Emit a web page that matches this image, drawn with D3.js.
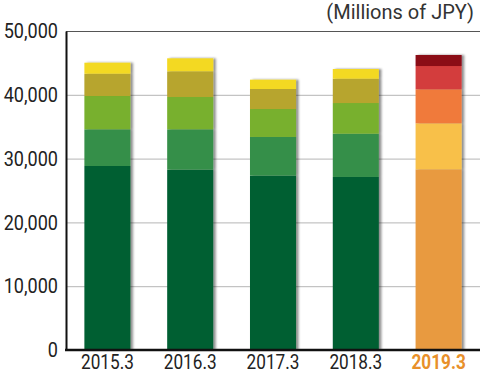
<!DOCTYPE html>
<html>
<head>
<meta charset="utf-8">
<script src="https://cdn.jsdelivr.net/npm/d3@7"></script>
<style>
  body { margin: 0; background: #fff; }
  svg { display: block; }
</style>
</head>
<body>
<div class="container"></div>
<script>
// values (millions of JPY), stacked bottom to top
var years = ["2015.3", "2016.3", "2017.3", "2018.3", "2019.3"];
var seg1 = [28840, 28260, 27320, 27120, 28320];
var seg2 = [5750, 6330, 6070, 6780, 7210];
var seg3 = [5220, 5070, 4380, 4810, 5330];
var seg4 = [3490, 4020, 3140, 3810, 3650];
var seg5 = [1730, 2040, 1460, 1520, 1730];
var yTicks = [0, 10000, 20000, 30000, 40000, 50000];

// colours: past years in greens, latest year in warm tones
var greens = ["#035e33", "#368f4a", "#78b02e", "#b7a52d", "#f3d923"];
var warms = ["#e89a3f", "#f8c049", "#f07a3a", "#d33c3c", "#8b0a15"];
var highlight = "2019.3";

var width = 480, height = 376;
var margin = {top: 31, right: 0, bottom: 26, left: 66};
var squeeze = 0.86; // the reference uses a condensed face

var svg = d3.select(".container").append("svg")
  .attr("width", width).attr("height", height);

var defs = svg.append("defs");
var f = defs.append("filter").attr("id", "shadow")
  .attr("x", "-10%").attr("y", "-5%").attr("width", "130%").attr("height", "110%");
f.append("feDropShadow").attr("dx", 2.5).attr("dy", 0).attr("stdDeviation", 1)
  .attr("flood-color", "#000").attr("flood-opacity", 0.45);

var x = d3.scaleBand().domain(years)
  .range([margin.left, width - margin.right])
  .paddingInner(0.444).paddingOuter(0.222);

var y = d3.scaleLinear().domain([0, 50000])
  .range([height - margin.bottom, margin.top]);

// build stacked rows
var keys = ["s1", "s2", "s3", "s4", "s5"];
var rows = years.map(function(yr, i) {
  return {year: yr, s1: seg1[i], s2: seg2[i], s3: seg3[i], s4: seg4[i], s5: seg5[i]};
});
var stack = d3.stack().keys(keys)(rows);

// grid lines
svg.append("g").selectAll("line")
  .data(yTicks.filter(function(t) { return t > 0 && t < 50000; }))
  .enter().append("line")
  .attr("x1", margin.left).attr("x2", width)
  .attr("y1", function(d) { return y(d) + 0.5; })
  .attr("y2", function(d) { return y(d) + 0.5; })
  .style("stroke", "#b5b5b5").style("stroke-width", 1);

// top border
svg.append("line")
  .attr("x1", margin.left).attr("x2", width)
  .attr("y1", y(50000) + 0.5).attr("y2", y(50000) + 0.5)
  .style("stroke", "#555").style("stroke-width", 1);

// bars with a shadow on each whole column
var cols = svg.append("g").selectAll("g.col")
  .data(rows).enter().append("g").attr("class", "col")
  .attr("filter", "url(#shadow)");

cols.each(function(r, i) {
  var g = d3.select(this);
  var pal = r.year === highlight ? warms : greens;
  stack.forEach(function(layer, k) {
    var d = layer[i];
    g.append("rect")
      .attr("x", x(r.year))
      .attr("width", x.bandwidth())
      .attr("y", y(d[1]))
      .attr("height", y(d[0]) - y(d[1]))
      .style("fill", pal[k]);
  });
});

// y axis
var yAxis = svg.append("g")
  .attr("transform", "translate(" + margin.left + ",0)")
  .call(d3.axisLeft(y).tickValues(yTicks).tickFormat(d3.format(",")).tickSize(0));
yAxis.select(".domain").style("stroke", "#111").style("stroke-width", 2);
yAxis.selectAll(".tick text")
  .attr("x", -8 / squeeze)
  .attr("transform", "scale(" + squeeze + ",1)")
  .style("font-family", "Roboto, sans-serif")
  .style("font-size", "21px").style("fill", "#222");

// x axis
var xAxis = svg.append("g")
  .attr("transform", "translate(0," + y(0) + ")")
  .call(d3.axisBottom(x).tickSize(0).tickPadding(5));
xAxis.select(".domain").attr("d", "M" + (margin.left - 1) + ",0H" + width)
  .style("stroke", "#111").style("stroke-width", 2.5);
xAxis.selectAll(".tick text")
  .attr("transform", "scale(" + squeeze + ",1)")
  .style("font-family", "Roboto, sans-serif")
  .style("font-size", "20px")
  .style("fill", function(d) { return d === highlight ? "#e8902a" : "#222"; })
  .style("font-weight", function(d) { return d === highlight ? "bold" : "normal"; });

// unit label
svg.append("text")
  .attr("x", 474).attr("y", 19)
  .attr("text-anchor", "end")
  .style("font-family", "Roboto, 'Noto Sans', sans-serif")
  .style("font-size", "20px")
  .style("fill", "#333")
  .text("(Millions of JPY)");
</script>
</body>
</html>
